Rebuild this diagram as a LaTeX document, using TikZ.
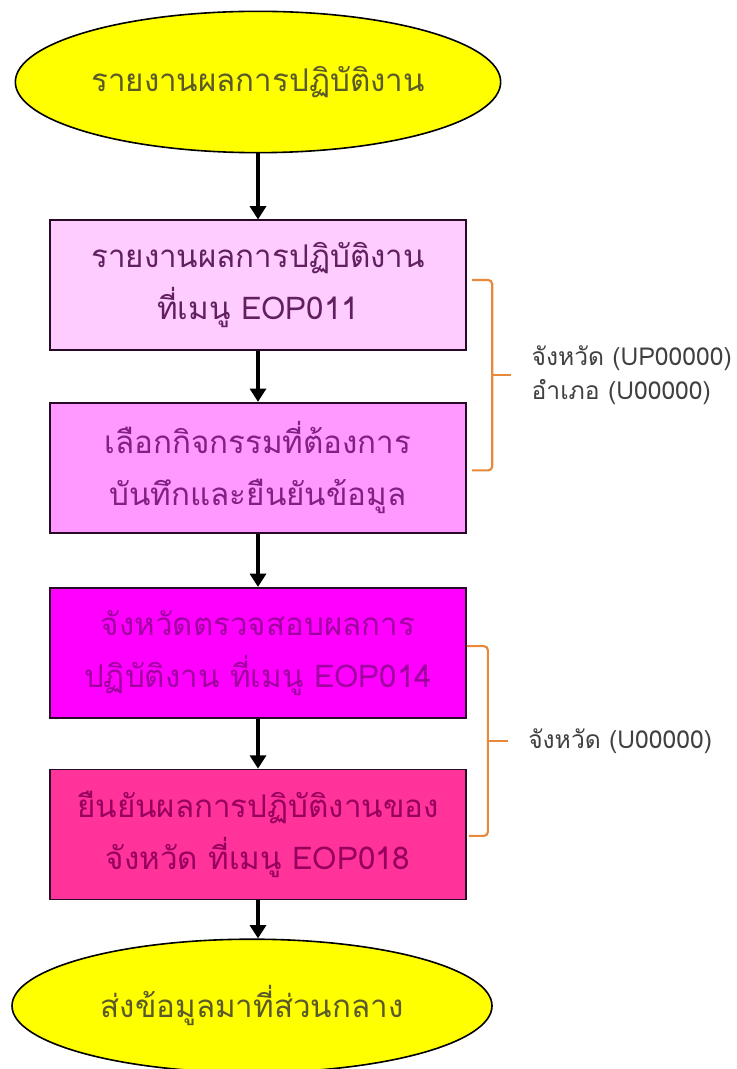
\documentclass[tikz,border=0pt]{standalone}
\usepackage{fontspec}
\setmainfont[Script=Thai]{Loma}
\usetikzlibrary{positioning,calc,shapes.geometric,arrows.meta}

\definecolor{termyellow}{RGB}{255,255,0}
\definecolor{termtext}{RGB}{90,90,40}
\definecolor{boxline}{RGB}{40,10,40}
\definecolor{boxA}{RGB}{255,204,255}
\definecolor{boxB}{RGB}{255,153,255}
\definecolor{boxC}{RGB}{255,0,255}
\definecolor{boxD}{RGB}{255,51,153}
\definecolor{textA}{RGB}{96,32,96}
\definecolor{textB}{RGB}{128,32,128}
\definecolor{textC}{RGB}{160,0,160}
\definecolor{textD}{RGB}{150,0,95}
\definecolor{braceorange}{RGB}{232,136,58}
\definecolor{notegray}{RGB}{64,64,64}

\begin{document}
\begin{tikzpicture}[node distance=38pt, auto,
    startend/.style={ellipse, draw, line width=1.2pt, fill=termyellow, text=termtext, minimum width=364pt, minimum height=106pt, inner sep=0pt, font=\fontsize{23.5}{30}\selectfont},
    box/.style={rectangle, draw=boxline, line width=1.3pt, minimum width=312pt, minimum height=97.5pt, align=center, font=\fontsize{23.5}{39}\selectfont},
    flow/.style={-{Triangle[length=10pt,width=12pt]}, line width=2.8pt},
    brace/.style={draw=braceorange, line width=1.6pt, rounded corners=3pt},
    note/.style={anchor=west, align=left, text=notegray, font=\fontsize{18.5}{26}\selectfont}]
    \useasboundingbox (0,0) rectangle (552.75pt,-801.75pt);

    \node[startend] (start) at (193.5pt,-61.5pt) {รายงานผลการปฏิบัติงาน};
    \node[box, fill=boxA, text=textA, below=49.5pt of start] (report) {รายงานผลการปฏิบัติงาน\\ที่เมนู EOP011};
    \node[box, fill=boxB, text=textB, below=of report] (select) {เลือกกิจกรรมที่ต้องการ\\บันทึกและยืนยันข้อมูล};
    \node[box, fill=boxC, text=textC, below=40pt of select] (check) {จังหวัดตรวจสอบผลการ\\ปฏิบัติงาน ที่เมนู EOP014};
    \node[box, fill=boxD, text=textD, below=37.5pt of check] (confirm) {ยืนยันผลการปฏิบัติงานของ\\จังหวัด ที่เมนู EOP018};
    \node[startend, below=28.5pt of confirm, xshift=-4.5pt, minimum width=360pt, minimum height=100pt] (send) {ส่งข้อมูลมาที่ส่วนกลาง};

    \draw[flow] (start) -- (report);
    \draw[flow] (report) -- (select);
    \draw[flow] (select) -- (check);
    \draw[flow] (check) -- (confirm);
    \draw[flow] (confirm) -- (send.north -| confirm.south);

    % brackets on the right
    \coordinate (b1top) at ($(report.east)+(4pt,4pt)$);
    \coordinate (b1bot) at ($(select.east)+(4pt,-2pt)$);
    \draw[brace] (b1top) -- ++(15pt,0) |- (b1bot);
    \coordinate (b1mid) at ($(b1top)!0.5!(b1bot)+(15pt,0)$);
    \draw[brace] (b1mid) -- ++(14pt,0) coordinate (b1tip);
    \node[note] (amphoe) at ($(b1tip)+(12pt,0)$) {จังหวัด (UP00000)\\อำเภอ (U00000)};

    \coordinate (b2top) at ($(check.east)+(0pt,5pt)$);
    \coordinate (b2bot) at ($(confirm.east)+(1.5pt,-1pt)$);
    \draw[brace] (b2top) -- ++(15.75pt,0) |- (b2bot);
    \coordinate (b2mid) at ($(b2top)!0.5!(b2bot)+(15.75pt,0)$);
    \draw[brace] (b2mid) -- ++(14pt,0) coordinate (b2tip);
    \node[note] (province) at ($(b2tip)+(12pt,0)$) {จังหวัด (U00000)};
\end{tikzpicture}
\end{document}
